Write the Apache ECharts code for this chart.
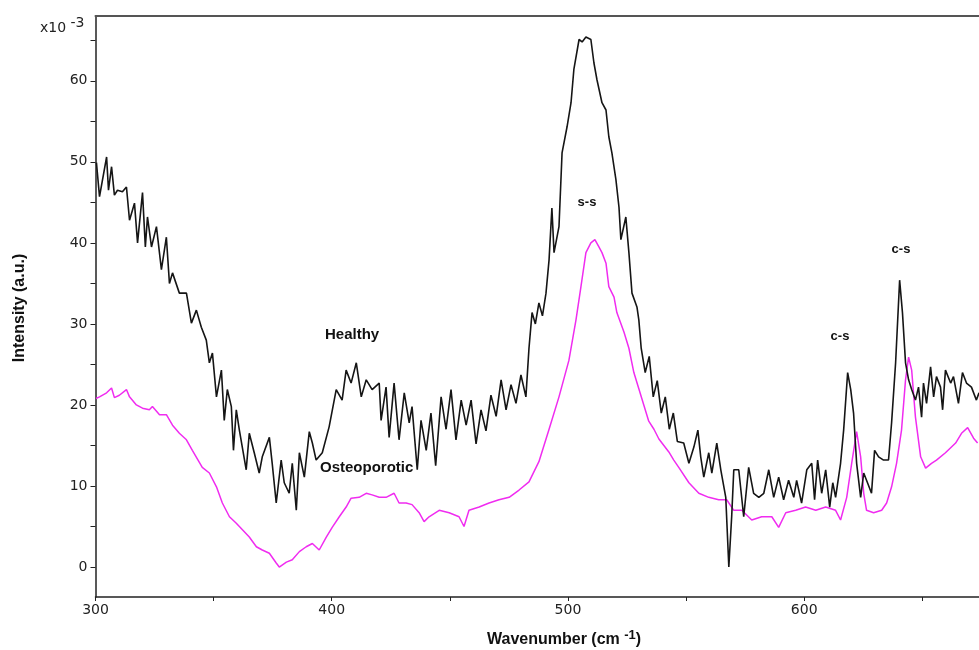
<!DOCTYPE html>
<html>
<head>
<meta charset="utf-8">
<title>Raman spectra - healthy vs osteoporotic</title>
<script src="https://cdn.jsdelivr.net/npm/echarts@6/dist/echarts.min.js"></script>
<style>
    html, body { margin: 0; padding: 0; background: #fff; }
    #chart { width: 979px; height: 650px; }
</style>
</head>
<body>
<div id="chart"></div>
<script>
    // [wavenumber cm-1, intensity x10^-3]
    var healthy = [
        [300.4, 49.9], [301.7, 45.7], [304.7, 50.6], [305.5, 46.5], [306.8, 49.4], [308.0, 45.9],
        [309.3, 46.5], [311.4, 46.3], [313.1, 46.9], [314.4, 42.8], [316.5, 44.9], [317.8, 40.0],
        [319.9, 46.2], [321.1, 39.5], [322.0, 43.2], [323.7, 39.5], [325.8, 42.0], [327.9, 36.7],
        [330.0, 40.7], [331.3, 35.0], [332.6, 36.3], [335.5, 33.8], [338.5, 33.8], [340.6, 30.1],
        [342.7, 31.7], [344.8, 29.6], [346.9, 28.0], [348.2, 25.2], [349.5, 26.4], [351.2, 21.0],
        [353.3, 24.3], [354.5, 18.1], [355.8, 21.9], [357.5, 19.8], [358.4, 14.4], [359.6, 19.4],
        [360.9, 16.9], [363.8, 12.0], [365.1, 16.5], [367.2, 14.1], [369.3, 11.6], [370.6, 13.6],
        [373.6, 16.0], [374.8, 12.8], [376.5, 7.9], [378.6, 13.2], [379.9, 10.4], [382.0, 9.1],
        [383.3, 12.8], [385.0, 7.0], [386.3, 14.1], [388.4, 11.1], [390.5, 16.7], [391.8, 15.3],
        [393.4, 13.2], [396.0, 14.1], [398.9, 17.3], [401.9, 21.9], [404.4, 20.6], [406.1, 24.3],
        [408.2, 22.7], [410.4, 25.2], [412.5, 21.0], [414.6, 23.1], [417.1, 21.9], [420.1, 22.7],
        [420.9, 18.1], [423.0, 22.2], [424.3, 16.0], [426.4, 22.7], [428.5, 15.7], [430.7, 21.5],
        [432.8, 17.8], [434.0, 19.8], [436.2, 12.0], [437.8, 18.1], [440.0, 14.4], [442.0, 19.0],
        [444.0, 12.5], [446.3, 21.0], [448.4, 17.0], [450.5, 21.9], [452.6, 15.7], [454.8, 20.6],
        [456.9, 17.5], [459.0, 20.6], [461.1, 15.2], [463.2, 19.4], [465.3, 16.8], [467.4, 21.2],
        [469.6, 18.6], [471.7, 23.1], [473.8, 19.4], [475.9, 22.5], [478.0, 20.2], [480.1, 23.7],
        [482.2, 21.0], [483.5, 27.0], [484.8, 31.4], [486.2, 30.0], [487.7, 32.6], [489.2, 31.0],
        [490.7, 33.8], [492.0, 37.9], [493.2, 44.3], [494.1, 38.8], [496.2, 42.0], [497.5, 51.1],
        [499.6, 54.3], [501.3, 57.3], [502.5, 61.4], [504.7, 65.1], [506.0, 64.8], [507.6, 65.4],
        [509.7, 65.1], [511.0, 62.2], [512.3, 60.1], [514.4, 57.3], [516.1, 56.4], [517.3, 53.1],
        [518.6, 51.1], [520.3, 47.8], [521.6, 44.4], [522.4, 40.4], [524.5, 43.2], [525.8, 38.8],
        [527.1, 33.8], [529.2, 32.1], [530.0, 30.5], [531.0, 27.0], [532.7, 24.0], [534.4, 26.0],
        [536.1, 21.0], [537.8, 23.0], [539.5, 19.0], [541.2, 21.0], [542.9, 17.0], [544.6, 19.0],
        [546.3, 15.5], [549.0, 15.3], [551.2, 12.8], [553.3, 14.8], [555.0, 16.9], [556.2, 13.6],
        [557.5, 11.1], [559.6, 14.1], [560.9, 11.6], [563.0, 15.3], [564.7, 12.0], [566.8, 8.6],
        [568.1, 0.0], [569.3, 6.2], [570.2, 12.0], [572.3, 12.0], [574.4, 6.2], [576.5, 12.3],
        [578.6, 9.1], [580.8, 8.6], [582.9, 9.1], [585.0, 12.0], [587.1, 8.6], [589.2, 11.1],
        [591.3, 8.3], [593.4, 10.7], [595.6, 8.6], [596.8, 10.7], [598.9, 7.9], [601.1, 12.0],
        [603.2, 12.8], [604.4, 8.3], [605.7, 13.2], [607.4, 9.1], [609.1, 12.0], [610.8, 7.4],
        [612.1, 10.4], [613.3, 8.6], [615.4, 12.8], [616.7, 16.9], [618.4, 24.0], [619.7, 21.9],
        [620.9, 19.0], [622.2, 12.8], [623.9, 8.6], [625.2, 11.6], [626.8, 10.4], [628.5, 9.1],
        [629.8, 14.4], [631.5, 13.6], [633.6, 13.2], [635.7, 13.2], [637.0, 17.8], [638.7, 25.2],
        [640.4, 35.4], [641.6, 31.4], [642.9, 25.2], [644.2, 23.1], [645.5, 21.9], [647.1, 20.6],
        [648.4, 22.2], [649.7, 18.5], [650.5, 22.7], [651.8, 20.2], [653.5, 24.7], [654.8, 21.0],
        [656.0, 23.5], [657.7, 22.2], [658.6, 19.4], [659.8, 24.3], [662.0, 22.7], [663.2, 23.5],
        [665.3, 20.2], [667.0, 24.0], [668.7, 22.7], [670.8, 22.2], [672.9, 20.6], [674.0, 21.5]
    ];

    var osteoporotic = [
        [300.2, 20.8], [301.7, 21.0], [304.7, 21.5], [306.8, 22.1], [308.0, 20.9], [310.1, 21.2],
        [313.1, 21.9], [314.4, 21.0], [317.3, 20.0], [319.9, 19.6], [322.8, 19.4], [324.1, 19.8],
        [327.1, 18.8], [330.0, 18.8], [332.6, 17.5], [335.5, 16.5], [338.5, 15.7], [341.0, 14.4],
        [345.2, 12.3], [348.2, 11.6], [351.2, 9.9], [353.7, 7.9], [356.7, 6.2], [359.6, 5.4],
        [362.2, 4.6], [365.1, 3.7], [368.1, 2.5], [370.6, 2.1], [373.6, 1.7], [376.5, 0.5],
        [377.8, 0.0], [380.8, 0.6], [383.3, 0.9], [386.3, 1.9], [389.2, 2.5], [391.8, 2.9],
        [394.7, 2.1], [397.7, 3.7], [400.2, 4.9], [403.2, 6.2], [406.1, 7.4], [408.2, 8.5],
        [411.6, 8.6], [414.6, 9.1], [417.1, 8.9], [420.1, 8.6], [423.0, 8.6], [426.4, 9.1],
        [428.5, 7.9], [431.5, 7.9], [434.0, 7.7], [437.0, 6.7], [439.1, 5.6], [441.2, 6.2],
        [445.5, 7.0], [449.7, 6.7], [453.9, 6.2], [456.0, 5.0], [458.1, 7.0], [462.4, 7.4],
        [466.6, 7.9], [470.8, 8.3], [475.1, 8.6], [479.3, 9.5], [483.5, 10.5], [487.7, 13.0],
        [492.0, 17.0], [496.2, 21.0], [500.4, 25.5], [503.4, 30.5], [505.5, 34.6], [507.6, 38.8],
        [509.7, 40.0], [511.4, 40.4], [513.1, 39.5], [514.4, 38.8], [516.1, 37.5], [517.3, 34.6],
        [519.5, 33.3], [520.7, 31.4], [523.7, 29.0], [525.8, 27.0], [527.9, 24.0], [530.0, 22.0],
        [532.1, 20.0], [534.2, 18.0], [536.4, 17.0], [538.5, 15.8], [540.6, 15.0], [542.7, 14.2],
        [544.8, 13.2], [546.9, 12.3], [551.2, 10.4], [555.4, 9.1], [559.6, 8.6], [563.8, 8.3],
        [567.2, 8.3], [570.2, 7.0], [573.6, 7.0], [577.8, 5.8], [582.0, 6.2], [586.3, 6.2],
        [589.2, 4.9], [592.2, 6.7], [596.4, 7.0], [600.6, 7.4], [604.9, 7.0], [609.1, 7.4],
        [613.3, 7.0], [615.4, 5.8], [618.0, 8.6], [620.1, 12.8], [622.2, 16.7], [623.9, 13.6],
        [625.2, 9.1], [626.4, 7.0], [629.4, 6.7], [632.8, 7.0], [634.9, 7.9], [637.0, 9.9],
        [639.1, 12.8], [641.2, 16.9], [642.9, 23.1], [644.2, 25.9], [645.5, 24.3], [647.1, 18.5],
        [649.3, 13.6], [651.4, 12.2], [653.9, 12.8], [656.0, 13.2], [659.8, 14.1], [664.1, 15.3],
        [666.6, 16.5], [669.2, 17.2], [671.7, 15.9], [673.4, 15.3]
    ];

    var xTicks = [300, 350, 400, 450, 500, 550, 600, 650];
    var xLabels = [300, 400, 500, 600];
    var yTicks = [0, 5, 10, 15, 20, 25, 30, 35, 40, 45, 50, 55, 60, 65];
    var yLabels = [0, 10, 20, 30, 40, 50, 60];

    var axisColor = '#222';
    var tickFont = 'DejaVu Sans';
    var boldFont = 'Liberation Sans';

    var chart = echarts.init(document.getElementById('chart'));

    var options = {
        animation: false,
        backgroundColor: '#fff',
        grid: { left: 95.5, right: 0, top: 16, bottom: 53 },
        xAxis: [
            {
                type: 'value',
                min: 300,
                max: 674,
                position: 'bottom',
                axisLine: { show: true, onZero: false, lineStyle: { color: axisColor, width: 1.5 } },
                axisTick: { show: true, customValues: xTicks, length: 4, lineStyle: { color: axisColor } },
                axisLabel: { customValues: xLabels, color: '#222', fontFamily: tickFont, fontSize: 14, margin: 6 },
                splitLine: { show: false }
            },
            {
                // top border of the frame
                type: 'value',
                min: 300,
                max: 674,
                position: 'top',
                axisLine: { show: true, onZero: false, lineStyle: { color: '#555', width: 2 } },
                axisTick: { show: false },
                axisLabel: { show: false },
                splitLine: { show: false }
            }
        ],
        yAxis: {
            type: 'value',
            min: -3.7,
            max: 68,
            axisLine: { show: true, onZero: false, lineStyle: { color: axisColor, width: 1.5 } },
            axisTick: { show: true, customValues: yTicks, length: 5, lineStyle: { color: axisColor } },
            axisLabel: { customValues: yLabels, color: '#222', fontFamily: tickFont, fontSize: 14, margin: 8 },
            splitLine: { show: false }
        },
        graphic: [
            {
                type: 'text', left: 40, top: 16,
                style: {
                    text: 'x10 {sup|-3}',
                    font: '14px "DejaVu Sans"', fill: '#222',
                    rich: { sup: { fontSize: 14, fontFamily: tickFont, verticalAlign: 'top', padding: [0, 0, 10, 0] } }
                }
            },
            {
                type: 'text', x: 20, y: 308, rotation: Math.PI / 2,
                style: {
                    text: 'Intensity (a.u.)', font: 'bold 16px "Liberation Sans"', fill: '#111',
                    align: 'center', verticalAlign: 'middle'
                }
            },
            {
                type: 'text', x: 487, y: 640,
                style: {
                    text: 'Wavenumber (cm {sup|-1})', font: 'bold 16px "Liberation Sans"', fill: '#111',
                    verticalAlign: 'middle',
                    rich: { sup: { fontSize: 13, fontWeight: 'bold', fontFamily: boldFont, padding: [0, 0, 10, 0] } }
                }
            },
            {
                type: 'text', x: 325, y: 335,
                style: { text: 'Healthy', font: 'bold 15px "Liberation Sans"', fill: '#111', verticalAlign: 'middle' }
            },
            {
                type: 'text', x: 320, y: 468,
                style: { text: 'Osteoporotic', font: 'bold 15px "Liberation Sans"', fill: '#111', verticalAlign: 'middle' }
            },
            {
                type: 'text', x: 587, y: 202,
                style: { text: 's-s', font: 'bold 13px "Liberation Sans"', fill: '#111', align: 'center', verticalAlign: 'middle' }
            },
            {
                type: 'text', x: 840, y: 336,
                style: { text: 'c-s', font: 'bold 13px "Liberation Sans"', fill: '#111', align: 'center', verticalAlign: 'middle' }
            },
            {
                type: 'text', x: 901, y: 249,
                style: { text: 'c-s', font: 'bold 13px "Liberation Sans"', fill: '#111', align: 'center', verticalAlign: 'middle' }
            }
        ],
        series: [
            {
                name: 'Osteoporotic',
                type: 'line',
                data: osteoporotic,
                showSymbol: false,
                lineStyle: { color: '#f02cf0', width: 1.5 },
                z: 2
            },
            {
                name: 'Healthy',
                type: 'line',
                data: healthy,
                showSymbol: false,
                lineStyle: { color: '#151515', width: 1.6 },
                z: 3
            }
        ]
    };

    chart.setOption(options);
</script>
</body>
</html>
